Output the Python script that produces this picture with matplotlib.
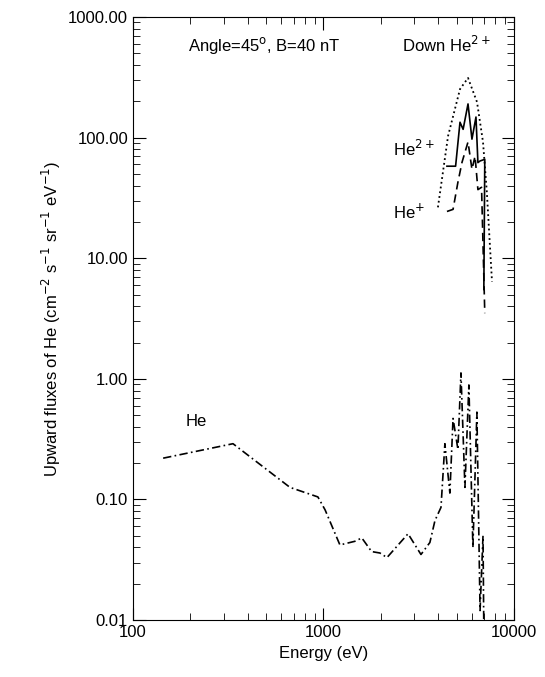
import matplotlib.pyplot as plt
from matplotlib.ticker import FixedLocator, LogLocator, NullFormatter

# upward He (dash-dot)
he_e = [144, 335, 667, 935, 1020, 1220, 1460, 1590, 1790, 1980, 2155, 2780, 3250, 3620, 3850, 4140,
        4340, 4610, 4790, 5080, 5270, 5530, 5800, 6090, 6390, 6640, 6880, 6950]
he_f = [0.22, 0.29, 0.126, 0.105, 0.082, 0.042, 0.045, 0.048, 0.037, 0.036, 0.033, 0.052, 0.035, 0.044,
        0.067, 0.086, 0.29, 0.113, 0.47, 0.26, 1.12, 0.126, 0.89, 0.04, 0.53, 0.012, 0.05, 0.008]

# downward He2+ (dotted)
down_e = [3990, 4510, 5210, 5740, 6400, 6880, 7210, 7670]
down_f = [26.4, 103, 252, 312, 197, 92, 35, 6.4]

# He2+ (solid)
he2_e = [4450, 4940, 5210, 5410, 5740, 6020, 6320, 6470, 6640, 7030, 6950]
he2_f = [57.9, 57.9, 134, 117, 190, 97, 148, 62, 64, 66, 5.5]

# He+ (dashed)
he1_e = [4450, 4790, 5080, 5340, 5740, 6020, 6250, 6470, 6760, 7030]
he1_f = [24.4, 25.4, 42.6, 62.5, 92, 54.6, 70, 37, 38.7, 3.5]

yticks = [0.01, 0.1, 1, 10, 100, 1000]
ylabels = ['0.01', '0.10', '1.00', '10.00', '100.00', '1000.00']

plt.rcParams['font.family'] = 'Liberation Sans'
fig = plt.figure(figsize=(5.45, 6.77), dpi=100)
ax = fig.add_axes([0.244, 0.084, 0.699, 0.891])

ax.plot(he_e, he_f, color='black', lw=1.2, linestyle=(0, (5, 2, 1, 2)))
ax.plot(down_e, down_f, color='black', lw=1.3, linestyle=':')
ax.plot(he2_e, he2_f, color='black', lw=1.2, linestyle='-')
ax.plot(he1_e, he1_f, color='black', lw=1.2, linestyle=(0, (5, 3)))

ax.set_xscale('log')
ax.set_yscale('log')
ax.set_xlim(100, 10000)
ax.set_ylim(0.01, 1000)
ax.yaxis.set_major_locator(FixedLocator(yticks))
ax.set_yticklabels(ylabels)
ax.set_xticks([100, 1000, 10000])
ax.set_xticklabels(['100', '1000', '10000'])
ax.yaxis.set_minor_locator(LogLocator(subs=range(2, 10)))
ax.xaxis.set_minor_locator(LogLocator(subs=range(2, 10)))
ax.yaxis.set_minor_formatter(NullFormatter())
ax.xaxis.set_minor_formatter(NullFormatter())
ax.tick_params(which='both', direction='in', top=True, right=True, labelsize=12)
ax.tick_params(which='major', length=9)
ax.tick_params(which='minor', length=5)

ax.set_xlabel('Energy (eV)', fontsize=12)
ax.set_ylabel('Upward fluxes of He (cm$^{-2}$ s$^{-1}$ sr$^{-1}$ eV$^{-1}$)', fontsize=12)

ax.text(0.144, 0.953, 'Angle=45$^{\\rm o}$, B=40 nT', transform=ax.transAxes, fontsize=12, va='center')
ax.text(0.706, 0.953, 'Down He$^{2+}$', transform=ax.transAxes, fontsize=12, va='center')
ax.text(2320, 80, 'He$^{2+}$', fontsize=12, va='center')
ax.text(2320, 24, 'He$^{+}$', fontsize=12, va='center')
ax.text(188, 0.44, 'He', fontsize=12, va='center')

fig.savefig('out.png')
